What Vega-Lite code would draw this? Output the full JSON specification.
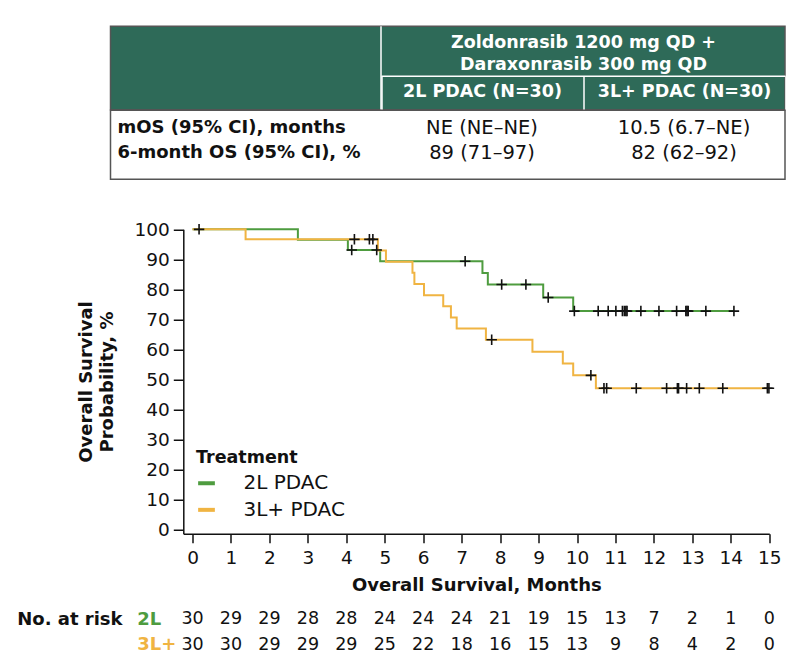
{
  "$schema": "https://vega.github.io/schema/vega-lite/v6.json",
  "background": "white",
  "padding": {"left": 16.5, "top": 24.25, "right": 5, "bottom": 5},
  "spacing": 11.5,
  "config": {
    "font": "DejaVu Sans",
    "view": {"stroke": null},
    "axis": {"grid": false}
  },
  "datasets": {
    "km": [
      {"group": "2L PDAC", "month": 0, "surv": 100, "censor": false},
      {"group": "2L PDAC", "month": 0.17, "surv": 100, "censor": true},
      {"group": "2L PDAC", "month": 2.74, "surv": 96.55, "censor": false},
      {"group": "2L PDAC", "month": 4.04, "surv": 93.1, "censor": false},
      {"group": "2L PDAC", "month": 4.14, "surv": 93.1, "censor": true},
      {"group": "2L PDAC", "month": 4.79, "surv": 93.1, "censor": true},
      {"group": "2L PDAC", "month": 4.88, "surv": 89.38, "censor": false},
      {"group": "2L PDAC", "month": 7.09, "surv": 89.38, "censor": true},
      {"group": "2L PDAC", "month": 7.54, "surv": 85.49, "censor": false},
      {"group": "2L PDAC", "month": 7.68, "surv": 81.61, "censor": false},
      {"group": "2L PDAC", "month": 8.04, "surv": 81.61, "censor": true},
      {"group": "2L PDAC", "month": 8.67, "surv": 81.61, "censor": true},
      {"group": "2L PDAC", "month": 9.12, "surv": 77.31, "censor": false},
      {"group": "2L PDAC", "month": 9.25, "surv": 77.31, "censor": true},
      {"group": "2L PDAC", "month": 9.9, "surv": 72.76, "censor": false},
      {"group": "2L PDAC", "month": 9.93, "surv": 72.76, "censor": true},
      {"group": "2L PDAC", "month": 10.55, "surv": 72.76, "censor": true},
      {"group": "2L PDAC", "month": 10.81, "surv": 72.76, "censor": true},
      {"group": "2L PDAC", "month": 11.01, "surv": 72.76, "censor": true},
      {"group": "2L PDAC", "month": 11.18, "surv": 72.76, "censor": true},
      {"group": "2L PDAC", "month": 11.23, "surv": 72.76, "censor": true},
      {"group": "2L PDAC", "month": 11.27, "surv": 72.76, "censor": true},
      {"group": "2L PDAC", "month": 11.3, "surv": 72.76, "censor": true},
      {"group": "2L PDAC", "month": 11.66, "surv": 72.76, "censor": true},
      {"group": "2L PDAC", "month": 12.13, "surv": 72.76, "censor": true},
      {"group": "2L PDAC", "month": 12.59, "surv": 72.76, "censor": true},
      {"group": "2L PDAC", "month": 12.83, "surv": 72.76, "censor": true},
      {"group": "2L PDAC", "month": 12.86, "surv": 72.76, "censor": true},
      {"group": "2L PDAC", "month": 12.89, "surv": 72.76, "censor": true},
      {"group": "2L PDAC", "month": 13.35, "surv": 72.76, "censor": true},
      {"group": "2L PDAC", "month": 14.08, "surv": 72.76, "censor": true},
      {"group": "3L+ PDAC", "month": 0, "surv": 100, "censor": false},
      {"group": "3L+ PDAC", "month": 1.38, "surv": 96.67, "censor": false},
      {"group": "3L+ PDAC", "month": 4.21, "surv": 96.67, "censor": true},
      {"group": "3L+ PDAC", "month": 4.6, "surv": 96.67, "censor": true},
      {"group": "3L+ PDAC", "month": 4.69, "surv": 96.67, "censor": true},
      {"group": "3L+ PDAC", "month": 4.82, "surv": 92.95, "censor": false},
      {"group": "3L+ PDAC", "month": 5.03, "surv": 89.23, "censor": false},
      {"group": "3L+ PDAC", "month": 5.72, "surv": 85.51, "censor": false},
      {"group": "3L+ PDAC", "month": 5.77, "surv": 81.8, "censor": false},
      {"group": "3L+ PDAC", "month": 6.02, "surv": 78.08, "censor": false},
      {"group": "3L+ PDAC", "month": 6.52, "surv": 74.36, "censor": false},
      {"group": "3L+ PDAC", "month": 6.72, "surv": 70.64, "censor": false},
      {"group": "3L+ PDAC", "month": 6.87, "surv": 66.92, "censor": false},
      {"group": "3L+ PDAC", "month": 7.63, "surv": 63.2, "censor": false},
      {"group": "3L+ PDAC", "month": 7.78, "surv": 63.2, "censor": true},
      {"group": "3L+ PDAC", "month": 8.84, "surv": 59.25, "censor": false},
      {"group": "3L+ PDAC", "month": 9.63, "surv": 55.3, "censor": false},
      {"group": "3L+ PDAC", "month": 9.9, "surv": 51.35, "censor": false},
      {"group": "3L+ PDAC", "month": 10.36, "surv": 51.35, "censor": true},
      {"group": "3L+ PDAC", "month": 10.49, "surv": 47.07, "censor": false},
      {"group": "3L+ PDAC", "month": 10.7, "surv": 47.07, "censor": true},
      {"group": "3L+ PDAC", "month": 10.77, "surv": 47.07, "censor": true},
      {"group": "3L+ PDAC", "month": 11.54, "surv": 47.07, "censor": true},
      {"group": "3L+ PDAC", "month": 12.33, "surv": 47.07, "censor": true},
      {"group": "3L+ PDAC", "month": 12.61, "surv": 47.07, "censor": true},
      {"group": "3L+ PDAC", "month": 12.64, "surv": 47.07, "censor": true},
      {"group": "3L+ PDAC", "month": 12.85, "surv": 47.07, "censor": true},
      {"group": "3L+ PDAC", "month": 13.18, "surv": 47.07, "censor": true},
      {"group": "3L+ PDAC", "month": 13.79, "surv": 47.07, "censor": true},
      {"group": "3L+ PDAC", "month": 14.95, "surv": 47.07, "censor": true},
      {"group": "3L+ PDAC", "month": 14.99, "surv": 47.07, "censor": true}
    ],
    "risk": [
      {"arm": "2L", "month": 0, "n": 30}, {"arm": "2L", "month": 1, "n": 29}, {"arm": "2L", "month": 2, "n": 29},
      {"arm": "2L", "month": 3, "n": 28}, {"arm": "2L", "month": 4, "n": 28}, {"arm": "2L", "month": 5, "n": 24},
      {"arm": "2L", "month": 6, "n": 24}, {"arm": "2L", "month": 7, "n": 24}, {"arm": "2L", "month": 8, "n": 21},
      {"arm": "2L", "month": 9, "n": 19}, {"arm": "2L", "month": 10, "n": 15}, {"arm": "2L", "month": 11, "n": 13},
      {"arm": "2L", "month": 12, "n": 7}, {"arm": "2L", "month": 13, "n": 2}, {"arm": "2L", "month": 14, "n": 1},
      {"arm": "2L", "month": 15, "n": 0},
      {"arm": "3L+", "month": 0, "n": 30}, {"arm": "3L+", "month": 1, "n": 30}, {"arm": "3L+", "month": 2, "n": 29},
      {"arm": "3L+", "month": 3, "n": 29}, {"arm": "3L+", "month": 4, "n": 29}, {"arm": "3L+", "month": 5, "n": 25},
      {"arm": "3L+", "month": 6, "n": 22}, {"arm": "3L+", "month": 7, "n": 18}, {"arm": "3L+", "month": 8, "n": 16},
      {"arm": "3L+", "month": 9, "n": 15}, {"arm": "3L+", "month": 10, "n": 13}, {"arm": "3L+", "month": 11, "n": 9},
      {"arm": "3L+", "month": 12, "n": 8}, {"arm": "3L+", "month": 13, "n": 4}, {"arm": "3L+", "month": 14, "n": 2},
      {"arm": "3L+", "month": 15, "n": 0}
    ],
    "arms": [
      {"arm": "2L PDAC (N=30)"},
      {"arm": "3L+ PDAC (N=30)"}
    ],
    "outcomes": [
      {"row": "mOS (95% CI), months", "arm": "2L PDAC (N=30)", "value": "NE (NE–NE)"},
      {"row": "mOS (95% CI), months", "arm": "3L+ PDAC (N=30)", "value": "10.5 (6.7–NE)"},
      {"row": "6-month OS (95% CI), %", "arm": "2L PDAC (N=30)", "value": "89 (71–97)"},
      {"row": "6-month OS (95% CI), %", "arm": "3L+ PDAC (N=30)", "value": "82 (62–92)"}
    ]
  },
  "vconcat": [
    {
      "spacing": 0,
      "bounds": "flush",
      "vconcat": [
        {
          "width": 674.5,
          "height": 83.5,
          "view": {"fill": "#2e6a58", "stroke": "#555555", "strokeWidth": 1.5},
          "data": {"name": "arms"},
          "transform": [{"filter": "datum.arm === '2L PDAC (N=30)'"}],
          "mark": {"type": "rule", "color": "white", "strokeWidth": 1.5},
          "encoding": {
            "x": {
              "field": "arm", "type": "nominal", "bandPosition": 0,
              "scale": {"type": "band", "domain": ["2L PDAC (N=30)", "3L+ PDAC (N=30)"], "range": [270.5, 674.5], "paddingInner": 0, "paddingOuter": 0},
              "axis": {
                "orient": "bottom", "offset": -34, "tickBand": "extent",
                "domainColor": "white", "domainWidth": 1.5,
                "tickColor": "white", "tickWidth": 1.5, "tickSize": 34,
                "labelAngle": 0, "labelAlign": "center", "labelBaseline": "middle", "labelPadding": -17.9,
                "labelFontSize": 17.5, "labelFontWeight": "bold", "labelColor": "white", "labelLimit": 300,
                "title": ["Zoldonrasib 1200 mg QD +", "Daraxonrasib 300 mg QD"],
                "titleColor": "white", "titleFontSize": 17.5, "titleFontWeight": "bold", "titleLineHeight": 21.7,
                "titleBaseline": "middle", "titleY": -33
              }
            }
          }
        },
        {
          "width": 674.5,
          "height": 69,
          "view": {"fill": "white", "stroke": "#555555", "strokeWidth": 1.5},
          "data": {"name": "outcomes"},
          "mark": {"type": "text", "align": "center", "baseline": "middle", "fontSize": 19.5, "color": "#111111"},
          "encoding": {
            "x": {
              "field": "arm", "type": "nominal",
              "scale": {"type": "band", "domain": ["2L PDAC (N=30)", "3L+ PDAC (N=30)"], "range": [270.5, 674.5], "paddingInner": 0, "paddingOuter": 0},
              "axis": null
            },
            "y": {
              "field": "row", "type": "nominal",
              "scale": {"domain": ["mOS (95% CI), months", "6-month OS (95% CI), %"], "range": [5.2, 55.2], "paddingInner": 0, "paddingOuter": 0},
              "axis": {"orient": "left", "title": null, "domain": false, "ticks": false, "tickSize": 0, "labelAlign": "left", "labelBaseline": "middle", "labelPadding": -6.5, "labelFontSize": 18, "labelFontWeight": "bold", "labelColor": "#111111", "labelLimit": 400}
            },
            "text": {"field": "value"}
          }
        }
      ]
    },
    {
      "width": 674.5,
      "height": 341.9,
      "encoding": {
        "x": {
          "field": "month", "type": "quantitative",
          "scale": {"domain": [-0.24, 15], "range": [72.8, 658.8], "nice": false, "zero": false},
          "axis": {"values": [0, 1, 2, 3, 4, 5, 6, 7, 8, 9, 10, 11, 12, 13, 14, 15], "format": "d", "title": "Overall Survival, Months", "titleFontSize": 18, "titleFontWeight": "bold", "titleColor": "#111111", "titlePadding": 9, "labelFontSize": 18.5, "labelColor": "#111111", "labelPadding": 6, "labelFlush": false, "labelOverlap": false, "tickSize": 9, "tickWidth": 1.5, "tickColor": "#111111", "domainColor": "#111111", "domainWidth": 1.5}
        },
        "y": {
          "field": "surv", "type": "quantitative",
          "scale": {"domain": [-1.4, 100], "range": [341.9, 37.6], "nice": false, "zero": false},
          "axis": {"values": [0, 10, 20, 30, 40, 50, 60, 70, 80, 90, 100], "tickCount": 11, "offset": -72.8, "title": ["Overall Survival", "Probability, %"], "titleFontSize": 18, "titleFontWeight": "bold", "titleColor": "#111111", "titleLineHeight": 21, "titlePadding": 17, "labelFontSize": 18.5, "labelColor": "#111111", "labelPadding": 4, "labelFlush": false, "labelOverlap": false, "tickSize": 10, "tickWidth": 1.5, "tickColor": "#111111", "domainColor": "#111111", "domainWidth": 1.5}
        }
      },
      "layer": [
        {
          "data": {"name": "km"},
          "mark": {"type": "line", "interpolate": "step-after", "strokeWidth": 2},
          "encoding": {
            "color": {
              "field": "group", "type": "nominal",
              "scale": {"domain": ["2L PDAC", "3L+ PDAC"], "range": ["#4e9c3f", "#f0b442"]},
              "legend": {"orient": "none", "legendX": 85.5, "legendY": 423, "title": "Treatment", "titleFontSize": 17.5, "titleFontWeight": "bold", "titleColor": "#111111", "titlePadding": 6, "labelFontSize": 20, "labelColor": "#111111", "labelOffset": 26.5, "symbolType": "stroke", "symbolSize": 280, "symbolStrokeWidth": 4, "rowPadding": 5.6, "padding": 0}
            }
          }
        },
        {
          "data": {"name": "km"},
          "transform": [{"filter": "datum.censor"}],
          "mark": {"type": "point", "shape": "M-1,0H1M0,-1V1", "size": 110, "strokeWidth": 1.6, "color": "#111111", "filled": false, "opacity": 1}
        }
      ]
    },
    {
      "width": 674.5,
      "height": 51,
      "data": {"name": "risk"},
      "mark": {"type": "text", "align": "center", "baseline": "middle", "fontSize": 17.5, "color": "#111111"},
      "encoding": {
        "x": {"field": "month", "type": "quantitative", "scale": {"domain": [-0.24, 15], "range": [72.8, 658.8], "nice": false, "zero": false}, "axis": null},
        "y": {
          "field": "arm", "type": "nominal",
          "scale": {"domain": ["2L", "3L+"], "paddingInner": 0, "paddingOuter": 0},
          "axis": {
            "orient": "left", "domain": false, "ticks": false, "tickSize": 0,
            "labelAlign": "left", "labelBaseline": "middle", "labelPadding": -26.2, "labelFontSize": 18, "labelFontWeight": "bold",
            "labelColor": {"condition": {"test": "datum.value === '2L'", "value": "#4e9c3f"}, "value": "#f0b442"},
            "title": "No. at risk", "titleAngle": 0, "titleAlign": "left", "titleBaseline": "middle", "titleX": -93.8, "titleY": 12.75,
            "titleFontSize": 18, "titleFontWeight": "bold", "titleColor": "#111111"
          }
        },
        "text": {"field": "n", "type": "quantitative"}
      }
    }
  ]
}
